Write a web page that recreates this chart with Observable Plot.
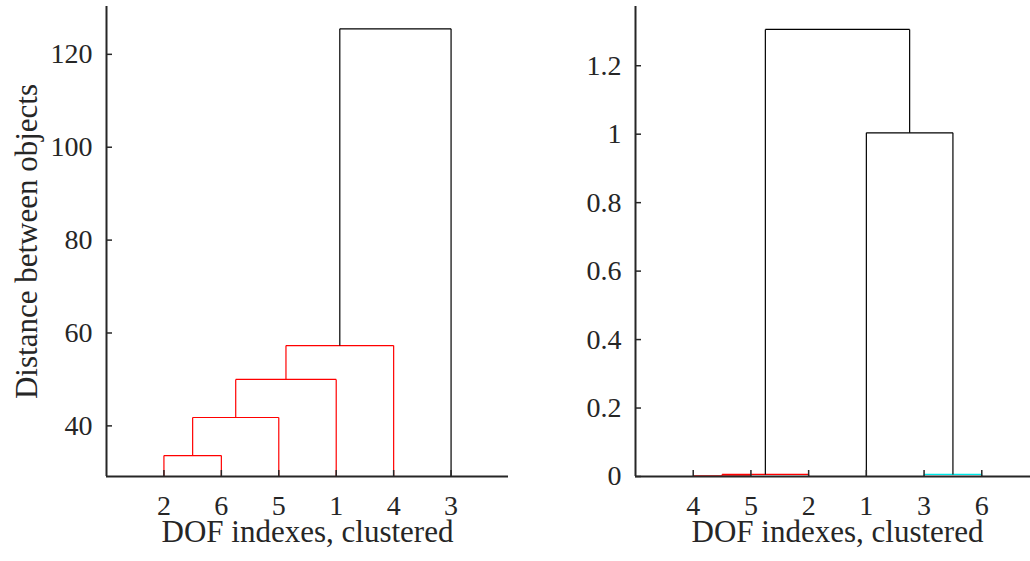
<!DOCTYPE html>
<html><head><meta charset="utf-8">
<script src="https://cdn.jsdelivr.net/npm/d3@7"></script>
<script src="https://cdn.jsdelivr.net/npm/@observablehq/plot@0.6"></script>
<style>
html,body{margin:0;padding:0;background:#fff;overflow:hidden}
#wrap{position:relative;width:1030px;height:561px;overflow:hidden}
#wrap svg{position:absolute;top:0}
#wrap svg text{font-family:'Liberation Serif','Times New Roman',serif !important}
</style></head><body><div id="wrap"></div>
<script>
// Left dendrogram: leaf order (tick labels) and links (cluster ids: leaves 1..6, links 7..11)
const leftLeaves = [2, 6, 5, 1, 4, 3];
const leftLinkA = [2, 7, 8, 9, 10];
const leftLinkB = [6, 5, 1, 4, 3];
const leftLinkH = [33.6, 41.8, 50.0, 57.3, 125.5];
const leftLinkColor = ["#ff0000", "#ff0000", "#ff0000", "#ff0000", "#000000"];
const leftYDomain = [29.1, 130.3];
const leftYTicks = [40, 60, 80, 100, 120];

// Right dendrogram
const rightLeaves = [4, 5, 2, 1, 3, 6];
const rightLinkA = [4, 7, 3, 1, 8];
const rightLinkB = [5, 2, 6, 9, 10];
const rightLinkH = [0.002, 0.006, 0.006, 1.004, 1.306];
const rightLinkColor = ["#ff0000", "#ff0000", "#00e8e8", "#000000", "#000000"];
const rightYDomain = [0, 1.373];
const rightYTicks = [0, 0.2, 0.4, 0.6, 0.8, 1, 1.2];

const xLabel = "DOF indexes, clustered";
const yLabel = "Distance between objects";

function buildSegments(leaves, A, B, H, C) {
  const n = leaves.length;
  const pos = new Map(), ht = new Map();
  leaves.forEach((leaf, i) => { pos.set(leaf, i + 1); ht.set(leaf, 0); });
  const segs = [];
  A.forEach((a, k) => {
    const b = B[k], h = H[k], c = C[k];
    const xa = pos.get(a), xb = pos.get(b);
    segs.push({x1: xa, y1: ht.get(a), x2: xa, y2: h, color: c});
    segs.push({x1: xb, y1: ht.get(b), x2: xb, y2: h, color: c});
    segs.push({x1: xa, y1: h, x2: xb, y2: h, color: c});
    const id = n + k + 1;
    pos.set(id, (xa + xb) / 2);
    ht.set(id, h);
  });
  return segs;
}

const font = "'Liberation Serif', 'Times New Roman', serif";
const ink = "#262626";

function chart(o) {
  const segs = buildSegments(o.leaves, o.A, o.B, o.H, o.C);
  const xPos = d3.range(1, o.leaves.length + 1);
  return Plot.plot({
    width: o.width, height: 561,
    marginLeft: o.ml, marginRight: o.mr, marginTop: 6, marginBottom: 85,
    x: {domain: [0, 7]},
    y: {domain: o.yDomain},
    color: {type: "identity"},
    style: {fontFamily: font, fontSize: "28px", color: ink, background: "transparent", overflow: "visible"},
    marks: [
      Plot.link(segs, {x1: "x1", y1: "y1", x2: "x2", y2: "y2", stroke: "color", strokeWidth: 1.2, clip: true}),
      Plot.axisX({ticks: xPos, tickFormat: () => "", tickSize: -6, tickPadding: 0, label: null, strokeWidth: 1.5}),
      Plot.axisY({ticks: o.yTicks, tickFormat: () => "", tickSize: -6, tickPadding: 0, label: null, strokeWidth: 1.5}),
      Plot.text(o.leaves, {x: (d, i) => i + 1, text: d => String(d), frameAnchor: "bottom",
        lineAnchor: "middle", textAnchor: "middle", dy: 30, fontSize: 28, fontFamily: font, fill: ink}),
      Plot.text(o.yTicks, {y: d => d, text: d => String(d), frameAnchor: "left",
        lineAnchor: "middle", textAnchor: "end", dx: -14, fontSize: 28, fontFamily: font, fill: ink}),
      Plot.ruleX([0], {stroke: ink, strokeWidth: 2}),
      Plot.ruleY([o.yDomain[0]], {stroke: ink, strokeWidth: 2}),
      Plot.text([xLabel], {text: d => d, frameAnchor: "bottom", lineAnchor: "middle", textAnchor: "middle",
        dy: 56, fontSize: 31, fontFamily: font, fill: ink}),
      o.showY ? Plot.text([yLabel], {text: d => d, frameAnchor: "left", lineAnchor: "middle", textAnchor: "middle",
        dx: -79, rotate: -90, fontSize: 31, fontFamily: font, fill: ink}) : null
    ]
  });
}

const wrap = document.getElementById("wrap");
const left = chart({leaves: leftLeaves, A: leftLinkA, B: leftLinkB, H: leftLinkH, C: leftLinkColor,
  yDomain: leftYDomain, yTicks: leftYTicks, width: 520, ml: 106, mr: 12, showY: true});
left.style.left = "0px";
wrap.appendChild(left);
const right = chart({leaves: rightLeaves, A: rightLinkA, B: rightLinkB, H: rightLinkH, C: rightLinkColor,
  yDomain: rightYDomain, yTicks: rightYTicks, width: 520, ml: 115, mr: 1, showY: false});
right.style.left = "520px";
wrap.appendChild(right);
</script></body></html>
